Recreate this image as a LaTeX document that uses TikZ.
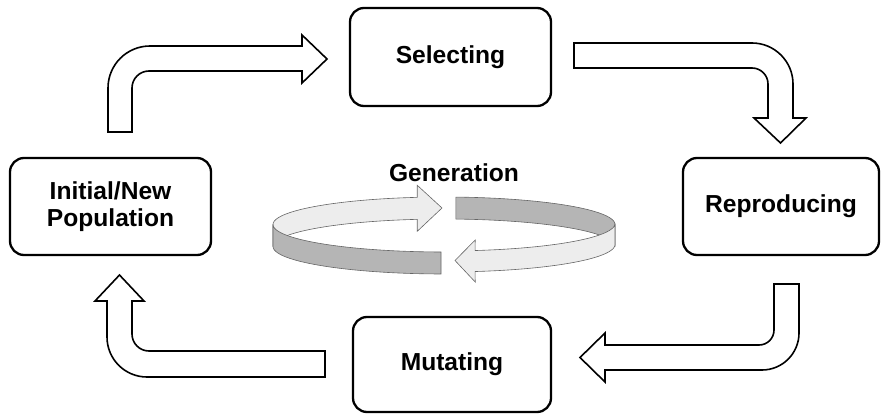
\documentclass[tikz,border=0pt]{standalone}
\usepackage{fontspec}
\setmainfont{Liberation Sans}
\begin{document}
\begin{tikzpicture}[x=1pt,y=-1pt,
  stagebox/.style={draw=black, line width=2.3pt, rounded corners=14pt, fill=white,
    align=center, font=\bfseries\fontsize{24.6}{27}\selectfont, inner sep=0pt},
  blockarrow/.style={draw=black, line width=1.6pt, fill=white, line join=miter},
  ringlight/.style={fill=black!7, draw=black!60, line width=0.6pt},
  ringdark/.style={fill=black!29, draw=black!60, line width=0.6pt}]
\useasboundingbox (0,0) rectangle (882,414);

% stage boxes
\node[stagebox, minimum width=201pt, minimum height=98pt] (sel) at (450.5,57) {Selecting};
\node[stagebox, minimum width=201pt, minimum height=97pt] (init) at (110.5,206.5) {Initial/New\\Population};
\node[stagebox, minimum width=196pt, minimum height=97pt] (rep) at (781,206.5) {Reproducing};
\node[stagebox, minimum width=198pt, minimum height=95pt] (mut) at (452,364.5) {Mutating};

% block arrows
\draw[blockarrow] (108,132) -- (108,88) .. controls (108,64.8) and (126.8,46) .. (150,46)
  -- (302,46) -- (302,35) -- (327,59) -- (302,83) -- (302,71) -- (149,71)
  .. controls (139.6,71) and (132,78.6) .. (132,88) -- (132,132) -- cycle;
\draw[blockarrow] (574,43) -- (752,43) .. controls (774.6,43) and (793,61.4) .. (793,84)
  -- (793,118) -- (806,118) -- (780.5,143) -- (754,118) -- (768,118) -- (768,84)
  .. controls (768,75.2) and (760.8,68) .. (752,68) -- (574,68) -- cycle;
\draw[blockarrow] (774,284) -- (799,284) -- (799,333) .. controls (799,353.4) and (782.4,370) .. (762,370)
  -- (605,370) -- (605,382) -- (580,357.5) -- (605,333) -- (605,345) -- (759,345)
  .. controls (767.3,345) and (774,338.3) .. (774,330) -- cycle;
\draw[blockarrow] (325,351) -- (149,351) .. controls (139.6,351) and (132,343.4) .. (132,334)
  -- (132,301) -- (144,301) -- (119.5,275) -- (95,301) -- (107,301) -- (107,337)
  .. controls (107,359.1) and (124.9,377) .. (147,377) -- (325,377) -- cycle;

% generation ring: back pieces
\path[ringlight] plot[domain=180:261, samples=40] ({444+171*cos(\x)},{224.5+27.5*sin(\x)})
  -- (417.25,185.3) -- (442,208) -- (417.25,231.3)
  -- plot[domain=261:180, samples=40] ({444+171*cos(\x)},{246.5+27.5*sin(\x)}) -- cycle;
\path[ringdark] plot[domain=274:360, samples=40] ({444+171*cos(\x)},{224.5+27.5*sin(\x)})
  -- plot[domain=360:274, samples=40] ({444+171*cos(\x)},{246.5+27.5*sin(\x)}) -- cycle;
% front pieces
\path[ringdark] plot[domain=91:180, samples=40] ({444+171*cos(\x)},{224.5+27.5*sin(\x)})
  -- plot[domain=180:91, samples=40] ({444+171*cos(\x)},{246.5+27.5*sin(\x)}) -- cycle;
\path[ringlight] plot[domain=0:79.5, samples=40] ({444+171*cos(\x)},{223.5+27.5*sin(\x)})
  -- (475.2,240) -- (455,260.5) -- (475.2,282)
  -- plot[domain=79.5:0, samples=40] ({444+171*cos(\x)},{244.5+27.5*sin(\x)}) -- cycle;

\node[font=\bfseries\fontsize{24.6}{27}\selectfont, anchor=base, inner sep=0pt] (gen) at (454,182) {Generation};
\end{tikzpicture}
\end{document}
